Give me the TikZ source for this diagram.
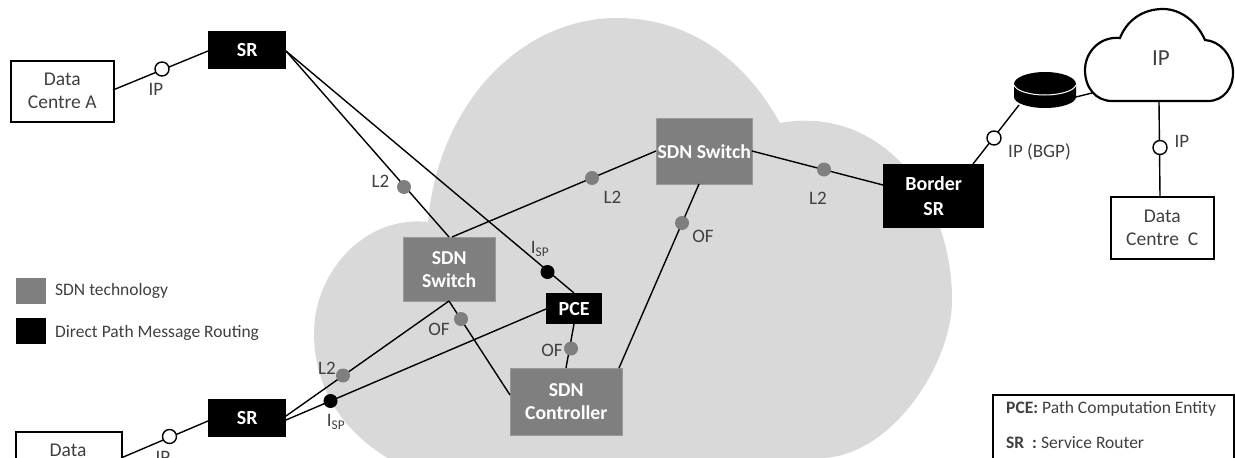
\documentclass[tikz,border=0pt]{standalone}
\usepackage{fontspec}
\setmainfont{Carlito}
\definecolor{sdngrey}{HTML}{7F7F7F}
\definecolor{cloudgrey}{HTML}{D9D9D9}
\definecolor{txtgrey}{HTML}{404040}
\tikzset{
  lbl/.style={font=\fontsize{19}{20}\selectfont,text=txtgrey,inner sep=0pt},
  keytxt/.style={font=\fontsize{17.5}{19}\selectfont,text=txtgrey,inner sep=0pt,anchor=west},
  whitebox/.style={draw=black,line width=1.5pt,fill=white,text=txtgrey,align=center,inner sep=0pt,font=\fontsize{19.5}{23}\selectfont,anchor=north west},
  blackbox/.style={fill=black,text=white,align=center,inner sep=0pt,font=\bfseries\fontsize{20}{25}\selectfont,anchor=north west},
  greybox/.style={fill=sdngrey,draw=sdngrey!80!white,line width=.5pt,text=white,align=center,inner sep=0pt,font=\bfseries\fontsize{19.7}{23}\selectfont,anchor=north west},
  link/.style={draw=black,line width=1.4pt},
  dotgrey/.style={circle,fill=sdngrey,inner sep=0pt,minimum size=14pt},
  dotblack/.style={circle,fill=black,inner sep=0pt,minimum size=14pt},
  dotwhite/.style={circle,draw=black,fill=white,line width=1.4pt,inner sep=0pt,minimum size=14pt},
  legendbox/.style={inner sep=0pt,minimum width=30pt,minimum height=26pt,anchor=north west},
}
\newcommand{\isp}{I\textsubscript{SP}}
\begin{document}
\begin{tikzpicture}[x=1pt,y=-1pt]
\useasboundingbox (0,0) rectangle (1235,458);
\begin{scope}
\clip (0,0) rectangle (1235,458);
% large cloud
\fill[cloudgrey] (428,222)
  .. controls (438,105) and (520,18) .. (617,18)
  .. controls (690,18) and (745,60) .. (780,123)
  .. controls (880,105) and (952,195) .. (952,300)
  .. controls (952,365) and (890,458) .. (820,458)
  -- (820,470) -- (410,470)
  .. controls (345,440) and (314,390) .. (314,333)
  .. controls (314,272) and (365,215) .. (428,222) -- cycle;

% coordinates for connector ends
\coordinate (srTr) at (286,51);
\coordinate (srBr1) at (286,416);
\coordinate (srBr2) at (286,420);

% nodes
\node[whitebox,minimum width=103pt,minimum height=61pt] (dca) at (10,60) {Data\\Centre A};
\node[blackbox,minimum width=78pt,minimum height=38pt] (srt) at (208,31) {SR};
\node[blackbox,minimum width=78pt,minimum height=38pt] (srb) at (208,399) {SR};
\node[whitebox,minimum width=106pt,minimum height=61pt] (dcb) at (15,431) {};
\node[lbl,font=\fontsize{19.5}{23}\selectfont] (dcbt) at (68,450) {Data};
\node[greybox,minimum width=92pt,minimum height=64pt] (swl) at (403,237) {SDN\\Switch};
\node[greybox,minimum width=96pt,minimum height=66pt] (swt) at (656,118) {SDN Switch};
\node[blackbox,minimum width=56pt,minimum height=31pt] (pce) at (546,293) {PCE};
\node[greybox,minimum width=112pt,minimum height=67pt] (ctl) at (510,368) {SDN\\Controller};
\node[blackbox,minimum width=101pt,minimum height=64pt] (bsr) at (883,164) {Border\\SR};
\node[whitebox,minimum width=103pt,minimum height=62pt] (dcc) at (1110,196) {Data\\Centre\ \ C};

% connector anchors
\coordinate (a1) at (113,90);
\coordinate (a2) at (208,51);
\coordinate (b1) at (121,458);
\coordinate (b2) at (208,421);
\coordinate (swlT) at (449,237);
\coordinate (swlT2) at (452,237);
\coordinate (swlB) at (449,301);
\coordinate (pceT) at (574,293);
\coordinate (pceL) at (546,309);
\coordinate (pceB) at (574,324);
\coordinate (ctlT) at (566,368);
\coordinate (ctlL) at (510,395);
\coordinate (ctlT2) at (619,368);
\coordinate (swtB) at (699,184);
\coordinate (swtL) at (656,151);
\coordinate (swtR) at (752,151);
\coordinate (bsrL) at (883,185);
\coordinate (bsrT) at (973,164);
\coordinate (diskB) at (1019,105);
\coordinate (diskR) at (1076,97);
\coordinate (cldL) at (1092,93);
\coordinate (cldB) at (1159,102);
\coordinate (dccT) at (1160,196);

% connectors
\draw[link] (a1) -- (a2);
\draw[link] (b1) -- (b2);
\draw[link] (srTr) -- (swlT);
\draw[link] (srTr) -- (pceT);
\draw[link] (swlT2) -- (swtL);
\draw[link] (srBr1) -- (swlB);
\draw[link] (srBr2) -- (pceL);
\draw[link] (swlB) -- (ctlL);
\draw[link] (pceB) -- (ctlT);
\draw[link] (ctlT2) -- (swtB);
\draw[link] (swtR) -- (bsrL);
\draw[link] (bsrT) -- (diskB);
\draw[link] (diskR) -- (cldL);
\draw[link] (cldB) -- (dccT);

% dots
\node[dotwhite] (d1) at (162,69) {};
\node[dotwhite] (d2) at (169.5,436.5) {};
\node[dotwhite] (d3) at (994,138) {};
\node[dotwhite] (d4) at (1160,147.5) {};
\node[dotgrey] (g1) at (404,187) {};
\node[dotgrey] (g2) at (592,178) {};
\node[dotgrey] (g3) at (824,169.5) {};
\node[dotgrey] (g4) at (682,223) {};
\node[dotgrey] (g5) at (461,319) {};
\node[dotgrey] (g6) at (571,348.5) {};
\node[dotgrey] (g7) at (343,375.5) {};
\node[dotblack] (k1) at (547.5,272) {};
\node[dotblack] (k2) at (330.5,401) {};

% labels
\node[lbl] (t1) at (156,89) {IP};
\node[lbl] (t2) at (163,457) {IP};
\node[lbl] (t3) at (380.5,181) {L2};
\node[lbl] (t4) at (612.5,197) {L2};
\node[lbl] (t5) at (818,198) {L2};
\node[lbl] (t6) at (703,236) {OF};
\node[lbl] (t7) at (439,329) {OF};
\node[lbl] (t8) at (552,350) {OF};
\node[lbl] (t9) at (327,368) {L2};
\node[lbl] (t10) at (540,249) {\isp};
\node[lbl] (t11) at (336,422) {\isp};
\node[lbl] (t12) at (1039.5,152) {IP (BGP)};
\node[lbl] (t13) at (1182,141) {IP};

% disk
\fill[black] (1014,84) .. controls (1014,77.4) and (1028,72) .. (1045,72)
  .. controls (1062,72) and (1076,77.4) .. (1076,84) -- (1076,97)
  .. controls (1076,103) and (1062,108) .. (1045,108)
  .. controls (1028,108) and (1014,103) .. (1014,97) -- cycle;
\draw[white,line width=1pt] (1014,85) .. controls (1016,91) and (1030,95) .. (1045,95)
  .. controls (1060,95) and (1074,91) .. (1076,85);

% small cloud
\draw[black,line width=2.2pt,fill=white] (1112,101) -- (1208,101)
  .. controls (1224,101) and (1234,87) .. (1233,71)
  .. controls (1232,55) and (1220,41) .. (1205,40)
  .. controls (1197,22) and (1181,9) .. (1163,9)
  .. controls (1143,9) and (1127,20) .. (1120,38)
  .. controls (1100,36) and (1085,52) .. (1085,70)
  .. controls (1085,88) and (1096,101) .. (1112,101) -- cycle;
\node[font=\fontsize{23}{24}\selectfont,text=txtgrey,inner sep=0pt] (ipc) at (1161,58) {IP};

% legend
\node[legendbox,fill=sdngrey] (l1) at (16,278) {};
\node[legendbox,fill=black] (l2) at (16,318) {};
\node[keytxt] (l1t) at (55,290.5) {SDN technology};
\node[keytxt] (l2t) at (55,332.5) {Direct Path Message Routing};

% key box
\node[draw=black,line width=1.5pt,fill=white,minimum width=241pt,minimum height=90pt,anchor=north west,inner sep=0pt] (key) at (992,394) {};
\node[keytxt] (k1t) at (1006,408.5) {\textbf{PCE:} Path Computation Entity};
\node[keytxt] (k2t) at (1006,443) {\textbf{SR\ \ :} Service Router};
\end{scope}
\end{tikzpicture}
\end{document}
